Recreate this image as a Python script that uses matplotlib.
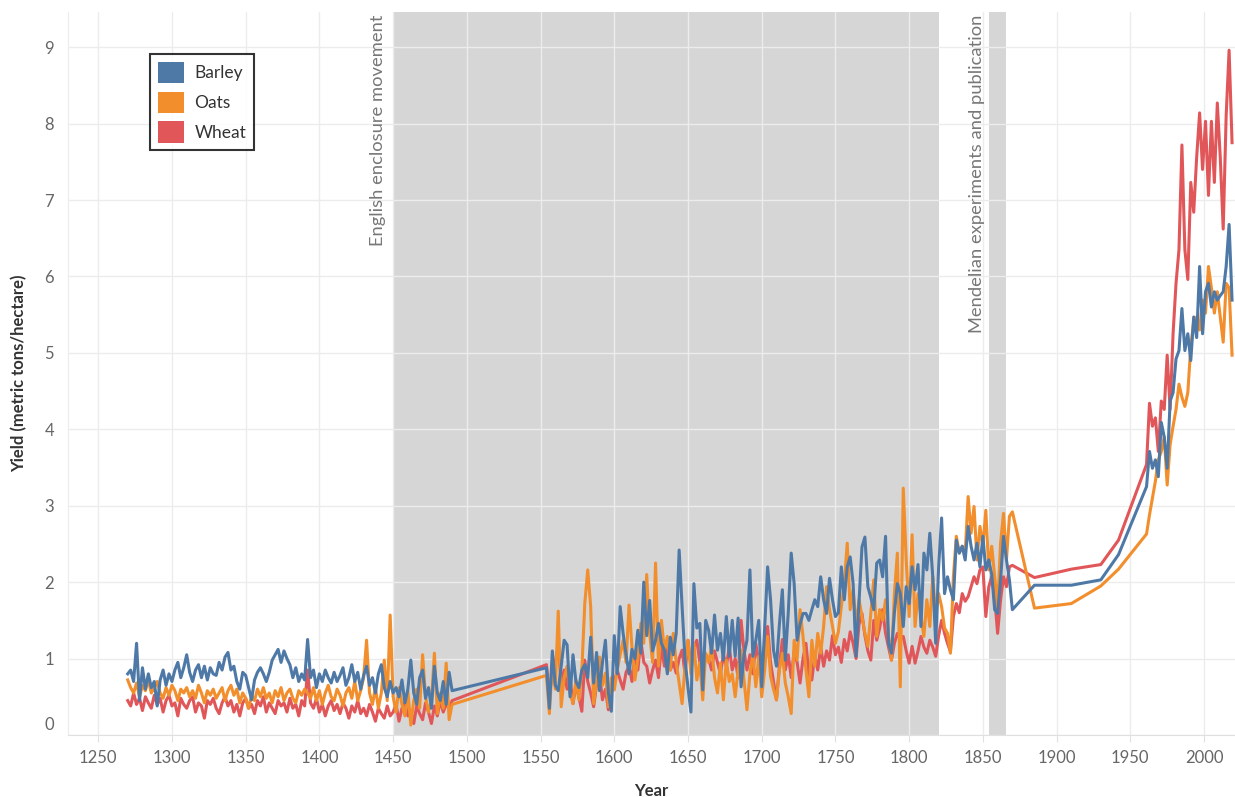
import numpy as np
import matplotlib
matplotlib.use("Agg")
import matplotlib.pyplot as plt
from matplotlib.patches import Patch
from matplotlib.transforms import ScaledTranslation

plt.rcParams['font.family'] = ['Lato', 'DejaVu Sans']

# years: two-year steps for the historical records, sparse points, then FAO years
years_early = np.arange(1270, 1491, 2)
years_mid = np.arange(1554, 1871, 2)
years_sparse = np.array([1885, 1910, 1930, 1942])
years_modern = np.arange(1961, 2020, 2)
years = np.concatenate([years_early, years_mid, years_sparse, years_modern])

barley_early = [
    0.80, 0.85, 0.70, 1.20, 0.45, 0.88, 0.60, 0.80, 0.62, 0.70,
    0.38, 0.72, 0.85, 0.65, 0.80, 0.70, 0.85, 0.95, 0.75, 0.88,
    1.05, 0.82, 0.70, 0.85, 0.92, 0.75, 0.90, 0.72, 0.88, 0.80,
    0.78, 0.95, 0.85, 1.02, 1.08, 0.85, 0.90, 0.70, 0.60, 0.82,
    0.78, 0.62, 0.46, 0.72, 0.82, 0.88, 0.80, 0.70, 0.82, 0.98,
    1.05, 1.12, 0.95, 1.10, 1.00, 0.92, 0.75, 0.88, 0.70, 0.80,
    0.72, 1.25, 0.75, 0.85, 0.62, 0.80, 0.70, 0.85, 0.75, 0.68,
    0.82, 0.70, 0.78, 0.88, 0.65, 0.75, 0.92, 0.70, 0.82, 0.60,
    0.78, 0.90, 0.65, 0.75, 0.55, 0.80, 0.92, 0.62, 0.50, 0.70,
    0.55, 0.62, 0.50, 0.72, 0.42, 0.60, 0.98, 0.55, 0.40, 0.75,
    0.85, 0.48, 0.62, 0.35, 0.90, 0.55, 0.45, 0.70, 0.40, 0.82,
    0.58]
oats_early = [
    0.72, 0.62, 0.55, 0.68, 0.50, 0.65, 0.58, 0.72, 0.55, 0.62,
    0.70, 0.55, 0.48, 0.62, 0.52, 0.65, 0.58, 0.45, 0.60, 0.55,
    0.62, 0.50, 0.58, 0.48, 0.65, 0.55, 0.42, 0.58, 0.52, 0.60,
    0.48, 0.55, 0.62, 0.45, 0.58, 0.65, 0.52, 0.60, 0.42, 0.55,
    0.48, 0.35, 0.52, 0.45, 0.60, 0.50, 0.62, 0.48, 0.55, 0.42,
    0.58, 0.50, 0.62, 0.45, 0.55, 0.60, 0.48, 0.42, 0.58, 0.52,
    0.60, 0.55, 0.48, 0.62, 0.45, 0.58, 0.40, 0.55, 0.65, 0.50,
    0.45, 0.60, 0.52, 0.38, 0.55, 0.62, 0.48, 0.70, 0.45, 0.58,
    0.75, 1.24, 0.55, 0.40, 0.62, 0.35, 0.55, 0.98, 0.45, 1.57,
    0.50, 0.30, 0.62, 0.40, 0.25, 0.58, 0.13, 0.45, 0.60, 0.35,
    1.05, 0.50, 0.30, 0.45, 1.07, 0.28, 0.55, 0.35, 0.94, 0.20,
    0.40]
wheat_early = [
    0.45, 0.38, 0.55, 0.40, 0.48, 0.32, 0.50, 0.42, 0.35, 0.52,
    0.40, 0.48, 0.30, 0.45, 0.52, 0.38, 0.42, 0.25, 0.48, 0.40,
    0.35, 0.45, 0.50, 0.30, 0.42, 0.38, 0.22, 0.45, 0.40, 0.48,
    0.35, 0.28, 0.42, 0.50, 0.38, 0.45, 0.30, 0.40, 0.25, 0.42,
    0.48, 0.35, 0.40, 0.28, 0.45, 0.38, 0.50, 0.30, 0.42, 0.35,
    0.28, 0.45, 0.38, 0.42, 0.30, 0.48, 0.35, 0.40, 0.25, 0.45,
    0.38, 0.85, 0.42, 0.35, 0.48, 0.30, 0.40, 0.25, 0.38, 0.45,
    0.32, 0.40, 0.28, 0.42, 0.35, 0.22, 0.38, 0.30, 0.45, 0.28,
    0.35, 0.25, 0.40, 0.30, 0.18, 0.35, 0.28, 0.22, 0.38, 0.25,
    0.30, 0.40, 0.18, 0.35, 0.42, 0.25, 0.32, 0.15, 0.38, 0.28,
    0.20, 0.42, 0.30, 0.15, 0.38, 0.25, 0.45, 0.30, 0.40, 0.35,
    0.45]

barley_mid = [
    0.88, 0.35, 1.10, 0.65, 0.58, 0.90, 1.24, 1.18, 0.50, 1.05,
    0.70, 0.62, 0.85, 0.92, 0.75, 1.28, 0.68, 1.08, 0.58, 0.95,
    1.24, 0.55, 0.31, 1.30, 0.80, 1.68, 1.33, 1.05, 0.80, 1.12,
    1.00, 1.37, 1.07, 2.00, 1.30, 1.76, 1.10, 1.24, 1.46, 1.20,
    1.11, 0.80, 1.28, 1.05, 1.33, 2.42, 1.68, 0.98, 0.62, 0.30,
    1.98, 1.40, 1.46, 0.59, 1.50,
    1.37, 1.07, 1.57, 1.11, 1.33, 0.98, 1.55, 1.03, 1.50, 1.03,
    1.53, 0.63, 1.05, 1.24, 2.16, 1.03, 1.24, 1.50, 0.63, 1.40,
    2.20, 1.77, 1.11, 0.90, 1.45, 1.90, 0.98, 1.60, 2.38, 1.98,
    1.24, 1.45, 1.59, 1.59, 1.50, 1.64, 1.77, 1.68, 2.07, 1.77,
    1.59, 2.05, 1.77, 1.55, 1.60, 2.20, 1.77, 2.20, 2.33, 1.98,
    1.03, 1.75, 2.46, 2.59,
    1.94, 1.80, 1.64, 2.25, 2.29, 2.07, 2.60, 1.20, 1.07, 1.60,
    1.98, 1.85, 1.42, 1.94, 1.72, 2.20, 1.90, 2.23, 1.42, 2.38,
    2.16, 2.64, 2.07, 1.20, 2.20, 2.84, 1.85, 2.07, 1.90, 1.77,
    2.55, 2.38, 2.47, 2.29, 2.73, 2.47, 2.29, 2.51, 2.20, 2.60,
    2.16, 2.29, 2.10, 1.64, 1.59, 2.03, 2.60, 2.29, 2.03, 1.64]
oats_mid = [
    0.78, 0.28, 0.95, 0.60, 1.62, 0.37, 0.75, 0.90, 0.55, 0.41,
    0.72, 0.46, 0.85, 1.72, 2.16, 1.68, 0.41, 0.70, 1.02, 0.65,
    0.81, 0.37, 0.75, 0.59, 0.85, 1.05, 1.24, 0.95, 1.70, 1.15,
    0.72, 1.00, 1.46, 1.20, 2.10, 1.33, 0.95, 2.25, 0.90, 1.50,
    1.10, 1.29, 0.85, 1.33, 0.95, 0.68, 0.41, 0.90, 1.24, 0.80,
    1.20, 0.72, 0.95, 0.46, 1.07,
    0.95, 1.16, 0.75, 0.55, 0.94, 0.46, 0.98, 0.70, 0.80, 0.50,
    0.85, 1.11, 0.72, 0.33, 0.80, 1.07, 0.63, 1.03, 0.50, 0.85,
    1.29, 0.77, 0.60, 0.46, 0.85, 1.07, 0.68, 0.50, 0.28, 1.24,
    0.98, 1.64, 1.29, 0.85, 0.50, 1.24, 0.90, 1.33, 1.07, 1.42,
    1.94, 1.64, 1.42, 1.20, 1.35, 1.68, 1.98, 2.51, 1.64, 1.90,
    1.42, 1.77, 1.55, 1.33,
    1.16, 1.60, 2.03, 1.29, 1.64, 1.50, 1.77, 1.30, 0.98, 1.85,
    2.38, 0.63, 3.23, 2.29, 1.55, 2.62, 1.42, 1.85, 1.55, 1.29,
    1.77, 1.42, 2.07, 1.55, 1.85, 1.68, 1.40, 1.33, 1.07, 2.07,
    2.60, 2.38, 2.47, 2.38, 3.12, 2.64, 2.99, 2.29, 2.73, 2.47,
    2.94, 2.16, 2.47, 2.07, 1.68, 2.51, 2.90, 2.29, 2.86, 2.92]
wheat_mid = [
    0.92, 0.55, 0.80, 0.95, 1.16, 0.70, 0.85, 0.60, 0.75, 0.41,
    0.65, 0.50, 0.31, 0.98, 0.70, 0.55, 0.37, 0.65, 0.80, 0.46,
    0.60, 0.33, 0.55, 0.68, 0.85, 0.72, 0.60, 0.82, 0.90, 0.70,
    1.07, 0.85, 1.24, 0.95, 0.90, 0.68, 0.85, 0.98, 0.75, 1.16,
    0.90, 1.16, 0.85, 0.95, 0.81, 1.00, 1.11, 0.80, 1.24, 0.90,
    1.15, 1.24, 0.95, 0.81, 1.05,
    1.00, 0.85, 1.10, 0.95, 0.80, 1.05, 0.90, 1.15, 0.85, 1.00,
    0.75, 1.50, 1.10, 0.85, 1.05, 0.80, 1.20, 0.95, 0.70, 1.10,
    1.42, 0.95, 0.70, 0.46, 0.90, 1.25, 0.85, 1.05, 0.75, 1.10,
    0.95, 0.68, 1.00, 1.20, 0.80, 0.72, 1.05, 0.85, 1.15, 0.90,
    1.10, 0.98, 1.30, 1.05, 1.15, 0.95, 1.25, 1.10, 1.35, 1.20,
    1.00, 1.45, 1.59, 1.30,
    1.10, 0.98, 1.50, 1.24, 1.40, 1.64, 1.33, 1.15, 0.98, 1.20,
    1.33, 1.24, 1.29, 1.10, 0.94, 1.16, 0.94, 1.10, 1.29, 1.15,
    1.07, 1.24, 1.15, 1.03, 1.30, 1.50, 1.33, 1.20, 1.09, 1.55,
    1.72, 1.60, 1.85, 1.75, 1.81, 1.94, 2.07, 1.98, 2.16, 2.20,
    1.55, 1.94, 2.07, 1.80, 1.33, 1.77, 2.07, 1.94, 2.20, 2.22]

barley_sparse = [1.96, 1.96, 2.03, 2.36]
oats_sparse = [1.66, 1.72, 1.95, 2.17]
wheat_sparse = [2.06, 2.17, 2.23, 2.55]

barley_modern = [
    3.25, 3.71, 3.49, 3.60, 3.38, 4.09, 3.90, 3.49, 4.37, 4.48,
    4.92, 5.03, 5.58, 5.03, 5.25, 4.90, 5.47, 5.20, 6.13, 5.25,
    5.80, 5.91, 5.60, 5.80, 5.69, 5.75, 5.80, 6.13, 6.68, 5.69]
oats_modern = [
    2.63, 2.88, 3.10, 3.32, 3.60, 3.71, 3.90, 3.27, 3.80, 4.04,
    4.26, 4.59, 4.42, 4.30, 4.48, 5.08, 5.41, 5.47, 5.30, 5.69,
    5.52, 6.13, 5.85, 5.52, 5.80, 5.47, 5.14, 5.91, 5.85, 4.97]
wheat_modern = [
    3.54, 4.34, 4.04, 4.15, 3.71, 4.37, 4.26, 4.97, 4.26, 5.25,
    5.91, 6.35, 7.72, 6.35, 5.96, 7.23, 6.84, 7.56, 8.14, 7.40,
    8.03, 7.06, 8.03, 7.23, 8.27, 7.56, 6.62, 8.10, 8.96, 7.75]

barley = barley_early + barley_mid + barley_sparse + barley_modern
oats = oats_early + oats_mid + oats_sparse + oats_modern
wheat = wheat_early + wheat_mid + wheat_sparse + wheat_modern

series = ['Barley', 'Oats', 'Wheat']
colors = {'Barley': '#4e79a7', 'Oats': '#f28e2b', 'Wheat': '#e15759'}

fig = plt.figure(figsize=(12.35, 7.97), dpi=100)
ax = fig.add_axes([68 / 1235, 62 / 797, 1 - 68 / 1235, 723 / 797])

# shaded periods
ax.axvspan(1450, 1820, color='#d6d6d6', lw=0, zorder=0.1)
ax.axvspan(1854, 1866, color='#d6d6d6', lw=0, zorder=0.1)

ax.plot(years, wheat, color=colors['Wheat'], lw=2.2, zorder=2)
ax.plot(years, oats, color=colors['Oats'], lw=2.2, zorder=3)
ax.plot(years, barley, color=colors['Barley'], lw=2.2, zorder=4)

ax.set_xlim(1229.5, 2021)
ax.set_ylim(0, 9.46)
ax.set_xticks(np.arange(1250, 2001, 50))
ax.set_yticks(np.arange(0, 10, 1))
ax.set_axisbelow(True)
ax.grid(True, color='#ececec', lw=1.0)

for s in ['top', 'right']:
    ax.spines[s].set_visible(False)
ax.spines['left'].set_color('#ececec')
ax.spines['bottom'].set_color('#e0e0e0')

ax.tick_params(axis='x', colors='#e0e0e0', labelcolor='#666666', labelsize=12, length=5, pad=6)
ax.tick_params(axis='y', length=0, labelcolor='#666666', labelsize=12, pad=10)

# tableau lifts the 0 label inside the pane
lab0 = ax.get_yticklabels()[0]
lab0.set_transform(lab0.get_transform() + ScaledTranslation(0, 0.12, fig.dpi_scale_trans))

ax.set_xlabel('Year', fontsize=12, fontweight='bold', color='#333333', labelpad=12)
ax.set_ylabel('Yield (metric tons/hectare)', fontsize=12, fontweight='bold', color='#333333', labelpad=12)

ax.annotate('English enclosure movement', xy=(1450, 9.46), xytext=(-5, -2),
            textcoords='offset points', rotation=90, ha='right', va='top',
            fontsize=13.2, color='#777777')
ax.annotate('Mendelian experiments and publication', xy=(1854, 9.46), xytext=(-3, -2),
            textcoords='offset points', rotation=90, ha='right', va='top',
            fontsize=13.2, color='#777777')

handles = [Patch(facecolor=colors[s], edgecolor='none', label=s) for s in series]
leg = ax.legend(handles=handles, loc='upper left', bbox_to_anchor=(0.0703, 0.942),
                borderaxespad=0, frameon=True, fancybox=False, fontsize=12.5,
                handlelength=1.5, handleheight=1.5, handletextpad=0.6,
                labelspacing=0.5, borderpad=0.45)
leg.get_frame().set_edgecolor('black')
leg.get_frame().set_linewidth(1.5)
for t in leg.get_texts():
    t.set_color('#333333')

fig.savefig('out.png', dpi=100)
